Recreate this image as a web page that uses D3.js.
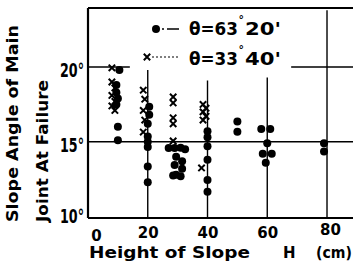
<!DOCTYPE html>
<html>
<head>
<meta charset="utf-8">
<script src="https://cdn.jsdelivr.net/npm/d3@7"></script>
<style>
  body { margin: 0; background: #fff; }
  svg { display: block; font-family: 'DejaVu Sans', sans-serif; font-weight: bold; }
</style>
</head>
<body>
<div id="chart"></div>
<script>
// theta = 63°20' (filled dots)
const steepH = [10.5, 9.5, 9.5, 10, 9.5, 10, 10,
    20.5, 20.5, 20, 20, 20, 20, 20, 20,
    27, 29, 31, 32.5, 29.5, 31.5, 29, 31.5, 29.5, 31, 28.5,
    40, 40, 40, 40, 40, 40,
    50, 50,
    58, 61, 60, 58.5, 61.5, 59.5,
    79, 79]
const steepAngle = [19.8, 18.8, 18.3, 17.9, 17.5, 16.0, 15.1,
    17.35, 16.8, 16.2, 15.35, 15.0, 14.65, 13.35, 12.3,
    14.58, 14.58, 14.6, 14.5, 14.0, 13.7, 13.45, 13.2, 12.8, 12.7, 12.75,
    15.7, 15.3, 14.7, 13.8, 12.45, 11.65,
    16.35, 15.67,
    15.85, 15.85, 14.9, 14.2, 14.2, 13.6,
    14.9, 14.35]

// theta = 33°40' (crosses)
const gentleH = [8, 8, 9, 8, 9, 8, 9,
    18.5, 19, 18.5, 19, 18.5,
    28.5, 28.5, 28.5, 28.5, 28.5,
    38.5, 39.5, 38.5, 39.5, 38.5, 38]
const gentleAngle = [19.95, 19.0, 18.6, 18.1, 17.7, 17.4, 17.1,
    18.45, 17.85, 17.1, 16.45, 15.65,
    18.0, 17.6, 16.6, 16.2, 15.05,
    17.5, 17.25, 17.0, 16.7, 16.45, 13.25]

const xTicks = [0, 20, 40, 60, 80]
const yTicks = [10, 15, 20]
const legendDeg = [['63', "20'"], ['33', "40'"]]

const width = 353, height = 275

const svg = d3.select('#chart')
    .append('svg')
    .attr('width', width)
    .attr('height', height)

const x = d3.scaleLinear().domain([0, 88.7]).range([88, 353])
const y = d3.scaleLinear().domain([9.9, 23.95]).range([218, 8])

const steep = steepH.map((h, i) => ({ h: h, a: steepAngle[i] }))
const gentle = gentleH.map((h, i) => ({ h: h, a: gentleAngle[i] }))

// guide lines
const guides = svg.append('g').attr('stroke', '#000').attr('stroke-width', 1.4)
guides.append('line')
    .attr('x1', x(0)).attr('x2', x(88.7))
    .attr('y1', y(15)).attr('y2', y(15))
guides.append('line')
    .attr('x1', x(0)).attr('x2', x(14))
    .attr('y1', y(20)).attr('y2', y(20))
guides.append('line')
    .attr('x1', x(68)).attr('x2', x(88.7))
    .attr('y1', y(20)).attr('y2', y(20))
const vTop = { 20: 19.8, 40: 19.1, 60: 19.3, 80: 23.8 }
Object.keys(vTop).forEach(function (h) {
    guides.append('line')
        .attr('x1', x(+h)).attr('x2', x(+h))
        .attr('y1', y(vTop[h])).attr('y2', y(9.9))
})

// frame
const frame = svg.append('g').attr('stroke', '#000').attr('stroke-width', 2.2)
frame.append('line').attr('x1', x(0)).attr('x2', x(88.7)).attr('y1', y(9.9)).attr('y2', y(9.9))
frame.append('line').attr('x1', x(0)).attr('x2', x(0)).attr('y1', y(9.9)).attr('y2', y(23.95))
frame.append('line').attr('x1', x(0)).attr('x2', x(88.7)).attr('y1', y(23.95)).attr('y2', y(23.95))

// X axis
const xAxis = svg.append('g')
    .attr('transform', 'translate(0,' + y(9.9) + ')')
    .call(d3.axisBottom(x).tickValues(xTicks).tickSize(0).tickPadding(9))
xAxis.select('.domain').remove()
xAxis.selectAll('text')
    .attr('font-size', 15)
    .attr('font-family', 'DejaVu Sans')
    .attr('font-weight', 'bold')
    .attr('fill', '#000')
    .attr('dx', d => d === 0 ? 8 : (d === 80 ? 3 : 0))
    .attr('dy', d => d === 80 ? '0.5em' : (d === 0 ? '0.9em' : '0.75em'))

// Y axis with degree sign
const yAxis = svg.append('g')
    .attr('transform', 'translate(' + x(0) + ',0)')
    .call(d3.axisLeft(y).tickValues(yTicks).tickSize(0).tickPadding(4)
        .tickFormat(d => d + '°'))
yAxis.select('.domain').remove()
yAxis.selectAll('text')
    .attr('font-size', 19)
    .attr('font-family', 'DejaVu Sans')
    .attr('font-weight', 'bold')
    .attr('fill', '#000')
    .attr('dy', d => d === 10 ? '0.3em' : '0.5em')
    .attr('textLength', 24)
    .attr('lengthAdjust', 'spacingAndGlyphs')

// points
svg.append('g')
    .selectAll('circle')
    .data(steep)
    .join('circle')
    .attr('cx', d => x(d.h))
    .attr('cy', d => y(d.a))
    .attr('r', 4)
    .attr('fill', '#000')

const cross = 'M-3.2,-3.2L3.2,3.2M-3.2,3.2L3.2,-3.2'
svg.append('g')
    .selectAll('path')
    .data(gentle)
    .join('path')
    .attr('transform', d => 'translate(' + x(d.h) + ',' + y(d.a) + ')')
    .attr('d', cross)
    .attr('stroke', '#000')
    .attr('stroke-width', 2)
    .attr('fill', 'none')

// legend
const legend = svg.append('g')
legend.append('circle').attr('cx', 156).attr('cy', 29).attr('r', 4).attr('fill', '#000')
legend.append('line')
    .attr('x1', 162).attr('x2', 179).attr('y1', 29).attr('y2', 29)
    .attr('stroke', '#000').attr('stroke-width', 1.4)
    .attr('stroke-dasharray', '2,3,12')
legend.append('path')
    .attr('transform', 'translate(147,57)')
    .attr('d', cross)
    .attr('stroke', '#000').attr('stroke-width', 2)
legend.append('line')
    .attr('x1', 152).attr('x2', 179).attr('y1', 57).attr('y2', 57)
    .attr('stroke', '#000').attr('stroke-width', 1.2)
    .attr('stroke-dasharray', '2,2')

legendDeg.forEach(function (t, i) {
    const base = 35 + i * 30
    legend.append('text')
        .attr('x', 189).attr('y', base)
        .attr('font-size', 17)
        .attr('textLength', 49)
        .attr('lengthAdjust', 'spacingAndGlyphs')
        .text('θ=' + t[0])
    legend.append('text')
        .attr('x', 238.5).attr('y', base - 12)
        .attr('font-size', 11)
        .text('°')
    legend.append('text')
        .attr('x', 245).attr('y', base)
        .attr('font-size', 17)
        .attr('textLength', 36)
        .attr('lengthAdjust', 'spacingAndGlyphs')
        .text(t[1])
})

// axis titles
svg.append('text')
    .attr('x', 89).attr('y', 258)
    .attr('font-size', 15)
    .attr('textLength', 161)
    .attr('lengthAdjust', 'spacingAndGlyphs')
    .text('Height of Slope')
svg.append('text')
    .attr('x', 283).attr('y', 258)
    .attr('font-size', 15)
    .text('H')
svg.append('text')
    .attr('x', 316).attr('y', 258)
    .attr('font-size', 15)
    .attr('textLength', 36)
    .attr('lengthAdjust', 'spacingAndGlyphs')
    .text('(cm)')

svg.append('text')
    .attr('transform', 'translate(18,222) rotate(-90)')
    .attr('font-size', 15)
    .attr('textLength', 197)
    .attr('lengthAdjust', 'spacingAndGlyphs')
    .text('Slope Angle of Main')
svg.append('text')
    .attr('transform', 'translate(48,222) rotate(-90)')
    .attr('font-size', 15)
    .attr('textLength', 142)
    .attr('lengthAdjust', 'spacingAndGlyphs')
    .text('Joint At Failure')
</script>
</body>
</html>
